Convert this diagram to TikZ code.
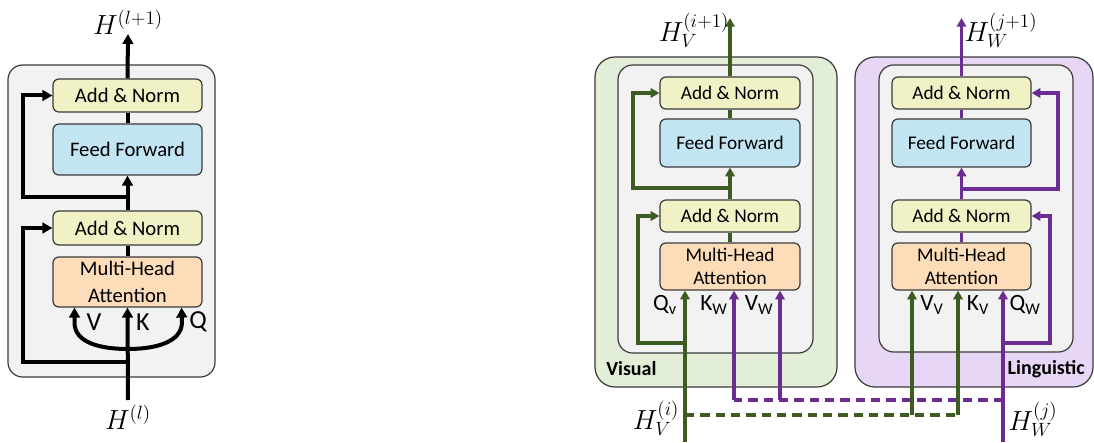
\documentclass[tikz,border=0pt]{standalone}
\usepackage{fontspec}
\setsansfont{Carlito}
\usetikzlibrary{arrows.meta,fit,calc}
\definecolor{anfill}{HTML}{F0F2C6}
\definecolor{fffill}{HTML}{C3E5F3}
\definecolor{mhafill}{HTML}{FDDDB9}
\definecolor{grayfill}{HTML}{F2F2F2}
\definecolor{greenfill}{HTML}{E2EED8}
\definecolor{purplefill}{HTML}{E7D6F5}
\definecolor{gline}{HTML}{3D5C22}
\definecolor{pline}{HTML}{6B2D91}
\definecolor{edge}{HTML}{3A3A3A}
\tikzset{
  blk/.style={draw=edge, line width=0.9pt, rounded corners=4.5pt, inner sep=0pt},
  btxt/.style={inner sep=0pt, align=center, font=\sffamily\fontsize{14.5}{17.5}\selectfont},
  btxtL/.style={inner sep=0pt, align=center, font=\sffamily\fontsize{15.5}{20}\selectfont},
  panel/.style={draw=edge, line width=0.9pt, inner sep=0pt},
  kline/.style={line width=3pt, black, -{Triangle[length=7.5pt,width=8pt]}},
  kplain/.style={line width=3pt, black},
  gar/.style={line width=2.3pt, gline, -{Triangle[length=6.5pt,width=7pt]}},
  gpl/.style={line width=2.3pt, gline},
  par/.style={line width=2.3pt, pline, -{Triangle[length=6.5pt,width=7pt]}},
  ppl/.style={line width=2.3pt, pline},
  gdash/.style={gpl, dash pattern=on 7pt off 4.5pt},
  pdash/.style={ppl, dash pattern=on 7pt off 4.5pt},
  lbl/.style={font=\sffamily\fontsize{17.5}{19}\selectfont, inner sep=0pt},
  lblL/.style={font=\sffamily\fontsize{19.5}{21}\selectfont, inner sep=0pt},
  hlbl/.style={font=\fontsize{20}{22}\selectfont, inner sep=0pt},
  tag/.style={font=\sffamily\bfseries\fontsize{15}{17}\selectfont, inner sep=0pt},
}
\begin{document}
\begin{tikzpicture}[x=0.75pt,y=-0.75pt]
\useasboundingbox (0,0) rectangle (1094,442);

% ---------------- Left: standard transformer block ----------------
\node[panel, fill=grayfill, rounded corners=11pt, fit={(8,65) (215,377)}] (outL) {};
\node[blk, fill=anfill, fit={(53,79) (202,112)}] (lan2) {};
\node[btxtL] at (lan2.center) {Add \& Norm};
\node[blk, fill=fffill, fit={(53,124) (202,175)}] (lff) {};
\node[btxtL] at (lff.center) {Feed Forward};
\node[blk, fill=anfill, fit={(53,211) (202,245)}] (lan1) {};
\node[btxtL] at (lan1.center) {Add \& Norm};
\node[blk, fill=mhafill, fit={(53,257) (202,307)}] (lmha) {};
\node[btxtL] at (lmha.center) {Multi-Head\\Attention};

\coordinate (lin) at (128,400);
\coordinate (lout) at (128,34);
\coordinate (lj0) at (128,362);
\coordinate (lj1) at (128,197);
\coordinate (lvq) at (128,349);

\draw[kline] (lin) -- (lmha.south);
\draw[kplain] (lmha.north) -- (lan1.south);
\draw[kline] (lan1.north) -- (lff.south);
\draw[kplain] (lff.north) -- (lan2.south);
\draw[kline] (lan2.north) -- (lout);
\draw[kline] (lj1) -- ++(-105,0) |- (lan2.west);
\draw[kline] (lj0) -- ++(-105,0) |- (lan1.west);
\draw[line width=3pt, {Triangle[length=7.5pt,width=8pt]}-{Triangle[length=7.5pt,width=8pt]}]
  ($(lmha.south)+(-53,0)$) -- ++(0,15) .. controls +(0,20) and (100,349) .. (lvq)
  .. controls (156,349) and (182,342) .. (182,322) -- ($(lmha.south)+(54,0)$);

\node[lblL] (lV) at (94,322) {V};
\node[lblL] (lK) at (143,322) {K};
\node[lblL] (lQ) at (198,322) {Q};
\node[hlbl] (lHout) at (128,22) {$H^{(l+1)}$};
\node[hlbl] (lHin) at (128,417) {$H^{(l)}$};

% ---------------- Visual stream ----------------
\node[panel, fill=greenfill, rounded corners=15pt, fit={(595,57) (837,387)}] (outV) {};
\node[panel, fill=grayfill, rounded corners=11pt, fit={(618,65) (813,353)}] (inV) {};
\node[blk, fill=anfill, fit={(660,77) (800,109)}] (van2) {};
\node[btxt] at (van2.center) {Add \& Norm};
\node[blk, fill=fffill, fit={(660,119) (800,167)}] (vff) {};
\node[btxt] at (vff.center) {Feed Forward};
\node[blk, fill=anfill, fit={(660,200) (800,232)}] (van1) {};
\node[btxt] at (van1.center) {Add \& Norm};
\node[blk, fill=mhafill, fit={(660,243) (800,290)}] (vmha) {};
\node[btxt] at (vmha.center) {Multi-Head\\Attention};
\node[tag, anchor=west] (vtag) at (606,369) {Visual};

% ---------------- Linguistic stream ----------------
\node[panel, fill=purplefill, rounded corners=15pt, fit={(855,57) (1093,387)}] (outW) {};
\node[panel, fill=grayfill, rounded corners=11pt, fit={(879,65) (1073,352)}] (inW) {};
\node[blk, fill=anfill, fit={(892,77) (1031,109)}] (wan2) {};
\node[btxt] at (wan2.center) {Add \& Norm};
\node[blk, fill=fffill, fit={(892,119) (1031,167)}] (wff) {};
\node[btxt] at (wff.center) {Feed Forward};
\node[blk, fill=anfill, fit={(892,200) (1031,232)}] (wan1) {};
\node[btxt] at (wan1.center) {Add \& Norm};
\node[blk, fill=mhafill, fit={(892,243) (1031,290)}] (wmha) {};
\node[btxt] at (wmha.center) {Multi-Head\\Attention};
\node[tag, anchor=east] (wtag) at (1085,369) {Linguistic};

% coordinates
\coordinate (vin) at (685,442);
\coordinate (vout) at (730,18);
\coordinate (vj0) at (685,343);
\coordinate (vj1) at (730,188);
\coordinate (vdash) at (685,415);
\coordinate (kw) at (734,400);
\coordinate (vw) at (780,400);
\coordinate (win) at (1003,442);
\coordinate (wout) at (961.5,18);
\coordinate (wj0) at (1003,343);
\coordinate (wj1) at (961.5,189);
\coordinate (wdash) at (1003,400);
\coordinate (vv) at (912,415);
\coordinate (kv) at (958,415);

% dashed cross connections
\draw[pdash] (wdash) -- (kw);
\draw[gdash] (vdash) -- (kv);

% visual stream connectors
\draw[gar] (vin) -- (vmha.south -| vin);
\draw[gpl] (vmha.north) -- (van1.south);
\draw[gar] (van1.north) -- (vff.south);
\draw[gpl] (vff.north) -- (van2.south);
\draw[gar] (van2.north) -- (vout);
\draw[gar] (vj1) -- ++(-97,0) |- (van2.west);
\draw[gar] (vj0) -- ++(-47,0) |- (van1.west);
\draw[par] (kw) -- (vmha.south -| kw);
\draw[par] (vw) -- (vmha.south -| vw);

% linguistic stream connectors
\draw[par] (win) -- (wmha.south -| win);
\draw[ppl] (wmha.north) -- (wan1.south);
\draw[par] (wan1.north) -- (wff.south);
\draw[ppl] (wff.north) -- (wan2.south);
\draw[par] (wan2.north) -- (wout);
\draw[par] (wj1) -- ++(96.5,0) |- (wan2.east);
\draw[par] (wj0) -- ++(47,0) |- (wan1.east);
\draw[gar] (vv) -- (wmha.south -| vv);
\draw[gar] (kv) -- (wmha.south -| kv);

% labels
\node[lbl] (lQv) at (665,305) {Q\textsubscript{v}};
\node[lbl] (lKw) at (714,305) {K\textsubscript{W}};
\node[lbl] (lVw) at (759,305) {V\textsubscript{W}};
\node[lbl] (lVv) at (932,305) {V\textsubscript{V}};
\node[lbl] (lKv) at (978,305) {K\textsubscript{V}};
\node[lbl] (lQw) at (1025,305) {Q\textsubscript{W}};

\node[hlbl] (hvout) at (694,30) {$H_V^{(i+1)}$};
\node[hlbl] (hwout) at (1001,30) {$H_W^{(j+1)}$};
\node[hlbl] (hvin) at (656,418) {$H_V^{(i)}$};
\node[hlbl] (hwin) at (1033,419) {$H_W^{(j)}$};
\end{tikzpicture}
\end{document}
